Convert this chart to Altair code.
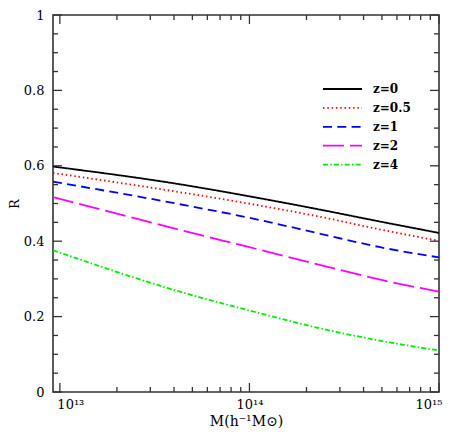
import altair as alt
import pandas as pd

# ---- data ----
mass = [9.2e12, 4.3e13, 1.0e14, 2.4e14, 4.9e14, 1.0e15]
r_z0 = [0.598, 0.551, 0.519, 0.483, 0.452, 0.422]
r_z05 = [0.581, 0.530, 0.4995, 0.464, 0.431, 0.401]
r_z1 = [0.558, 0.498, 0.462, 0.419, 0.384, 0.357]
r_z2 = [0.517, 0.430, 0.384, 0.336, 0.298, 0.266]
r_z4 = [0.376, 0.266, 0.216, 0.168, 0.136, 0.110]

series_labels = ["z=0", "z=0.5", "z=1", "z=2", "z=4"]
series_values = [r_z0, r_z05, r_z1, r_z2, r_z4]
series_colors = ["#000000", "#ff0000", "#0000ff", "#ff00ff", "#00ee00"]
series_dashes = [[1, 0], [1.5, 2.8], [9, 5.3], [21, 6], [5, 2.2, 1.5, 2.2]]

x_major = [1e13, 1e14, 1e15]
x_minor = [2e13, 3e13, 4e13, 5e13, 6e13, 7e13, 8e13, 9e13,
           2e14, 3e14, 4e14, 5e14, 6e14, 7e14, 8e14, 9e14]
x_tick_labels = ["10¹³", "10¹⁴", "10¹⁵"]
y_major = [0, 0.2, 0.4, 0.6, 0.8, 1.0]
y_minor = [0.05, 0.1, 0.15, 0.25, 0.3, 0.35, 0.45, 0.5, 0.55,
           0.65, 0.7, 0.75, 0.85, 0.9, 0.95]

rows = []
for lab, vals in zip(series_labels, series_values):
    for m, v in zip(mass, vals):
        rows.append({"M": m, "R": v, "z": lab})
df = pd.DataFrame(rows)

W = 386
H = 377
MAJ = 9
MIN = 5
TICK_COLOR = "#333333"
FONT = "DejaVu Serif"

xscale = alt.Scale(type="log", domain=[9.2e12, 1.0e15])
yscale = alt.Scale(domain=[0, 1])
color = alt.Color("z:N", scale=alt.Scale(domain=series_labels, range=series_colors), legend=None)
dash = alt.StrokeDash("z:N", scale=alt.Scale(domain=series_labels, range=series_dashes), legend=None)

label_expr = "[" + ",".join("'%s'" % t for t in x_tick_labels) + "][round(log(datum.value)/LN10)-13]"

x_axis = alt.Axis(values=x_major, labelExpr=label_expr, title="M(h⁻¹M⊙)",
                  ticks=False, domain=False, grid=False,
                  labelFont=FONT, labelFontSize=13, labelColor="#000",
                  labelPadding=6, labelFlush=10, labelFlushOffset=3,
                  titleFont=FONT, titleFontSize=14, titleFontWeight="normal",
                  titleColor="#000", titlePadding=3)
y_axis = alt.Axis(values=y_major, format="~g", title="R",
                  ticks=False, domain=False, grid=False,
                  labelFont=FONT, labelFontSize=13, labelColor="#000",
                  labelPadding=9,
                  titleFont=FONT, titleFontSize=13, titleFontWeight="normal",
                  titleColor="#000", titlePadding=1.5)

lines = alt.Chart(df).mark_line(strokeWidth=1.8, clip=True, interpolate="monotone").encode(
    x=alt.X("M:Q", scale=xscale, axis=x_axis),
    y=alt.Y("R:Q", scale=yscale, axis=y_axis),
    color=color,
    strokeDash=dash,
)

ymaj_df = pd.DataFrame({"R": y_major})
ymin_df = pd.DataFrame({"R": y_minor})
xmaj_df = pd.DataFrame({"M": x_major})
xmin_df = pd.DataFrame({"M": x_minor})


def ytick(data, x0, x1):
    return alt.Chart(data).mark_rule(color=TICK_COLOR, strokeWidth=1.3).encode(
        y=alt.Y("R:Q", scale=yscale, axis=y_axis),
        x=alt.value(x0), x2=alt.value(x1))


def xtick(data, y0, y1):
    return alt.Chart(data).mark_rule(color=TICK_COLOR, strokeWidth=1.3).encode(
        x=alt.X("M:Q", scale=xscale, axis=x_axis),
        y=alt.value(y0), y2=alt.value(y1))


ticks = [
    ytick(ymaj_df, 0, MAJ), ytick(ymaj_df, W - MAJ, W),
    ytick(ymin_df, 0, MIN), ytick(ymin_df, W - MIN, W),
    xtick(xmaj_df, H - MAJ, H), xtick(xmaj_df, 0, MAJ),
    xtick(xmin_df, H - MIN, H), xtick(xmin_df, 0, MIN),
]

# legend, drawn inside the plot, one row per series
leg_df = pd.DataFrame({"z": series_labels})
legend_layers = []
for i, lab in enumerate(series_labels):
    ypos = 74 + 18.9 * i
    base = alt.Chart(leg_df).transform_filter(alt.datum.z == lab)
    legend_layers.append(base.mark_rule(strokeWidth=1.8).encode(
        y=alt.value(ypos), x=alt.value(270), x2=alt.value(309), color=color, strokeDash=dash))
    legend_layers.append(base.mark_text(align="left", baseline="middle", font=FONT,
                                        fontSize=12, fontWeight="bold", color="#000").encode(
        y=alt.value(ypos), x=alt.value(320), text="z:N"))

chart = alt.layer(lines, *ticks, *legend_layers).properties(
    width=W, height=H,
    autosize=alt.AutoSizeParams(type="none"),
    padding={"left": 45, "top": 7, "right": 11, "bottom": 40},
).configure_view(stroke=TICK_COLOR, strokeWidth=1.6)

chart.save("out.html", embed_options={"renderer": "svg", "actions": False})
